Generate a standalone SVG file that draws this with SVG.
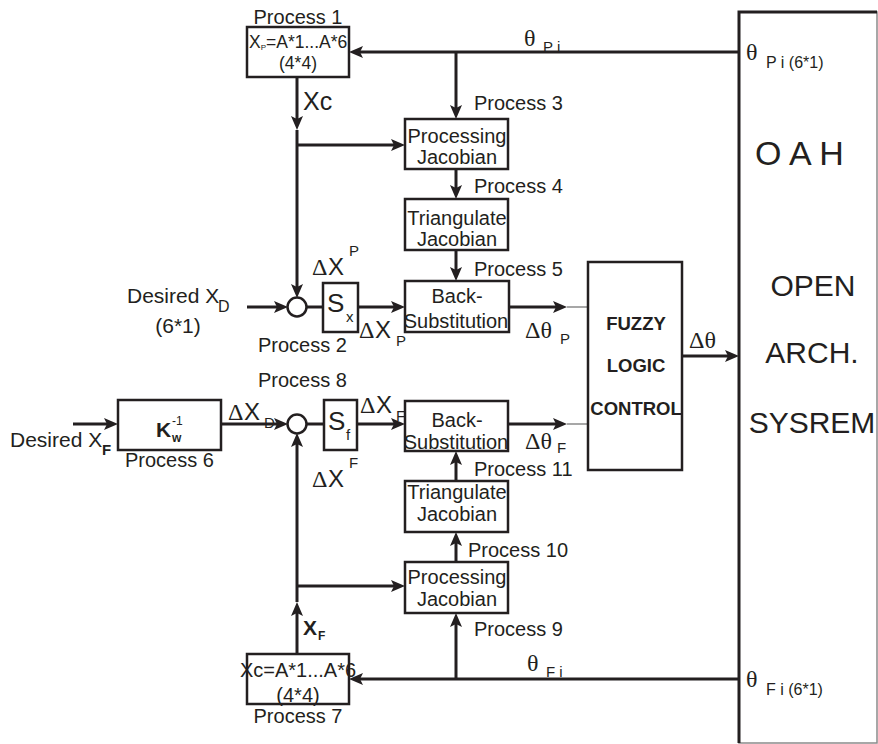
<svg xmlns="http://www.w3.org/2000/svg" width="878" height="744" viewBox="0 0 878 744" font-size="20">
<style>
.t{font-family:"Liberation Sans",Arial,sans-serif;fill:#231f20}
.s{font-family:"Liberation Serif","Times New Roman",serif;fill:#231f20}
.b{font-weight:bold}
.m{text-anchor:middle}
.box{fill:#fff;stroke:#231f20;stroke-width:2.5}
.c{stroke:#231f20;stroke-width:3;fill:none}
.thin{stroke:#8a8a8a;stroke-width:1.5;fill:none}
</style>
<defs>
<marker id="a" markerUnits="userSpaceOnUse" markerWidth="14" markerHeight="12" refX="8" refY="6" orient="auto">
<path d="M0,0 L14,6 L0,12 L3,6 z" fill="#231f20"/>
</marker>
</defs>
<rect width="878" height="744" fill="#fff"/>

<g id="connectors">
<path class="c" d="M739,52 H355" marker-end="url(#a)"/>
<path class="c" d="M456,52 V113" marker-end="url(#a)"/>
<path class="c" d="M297,77 V124" marker-end="url(#a)"/>
<path class="c" d="M297,130 V292" marker-end="url(#a)"/>
<path class="c" d="M297,145 H399" marker-end="url(#a)"/>
<path class="c" d="M456,169 V193" marker-end="url(#a)"/>
<path class="c" d="M456,250 V275" marker-end="url(#a)"/>
<path class="c" d="M247,307 H282" marker-end="url(#a)"/>
<path class="c" d="M307,307 H323"/>
<path class="c" d="M358,307 H399" marker-end="url(#a)"/>
<path class="c" d="M509,307 H561" marker-end="url(#a)"/>
<path class="thin" d="M567,307 H588"/>
<path class="c" d="M509,424 H561" marker-end="url(#a)"/>
<path class="thin" d="M567,424 H588"/>
<path class="c" d="M682,356 H733" marker-end="url(#a)"/>
<path class="c" d="M73,424 H112" marker-end="url(#a)"/>
<path class="c" d="M221,424 H282" marker-end="url(#a)"/>
<path class="c" d="M307,424 H324"/>
<path class="c" d="M357,424 H399" marker-end="url(#a)"/>
<path class="c" d="M739,679 H355" marker-end="url(#a)"/>
<path class="c" d="M456,679 V619" marker-end="url(#a)"/>
<path class="c" d="M456,562 V538" marker-end="url(#a)"/>
<path class="c" d="M456,481 V457" marker-end="url(#a)"/>
<path class="c" d="M297,654 V608" marker-end="url(#a)"/>
<path class="c" d="M297,602 V439" marker-end="url(#a)"/>
<path class="c" d="M297,586 H399" marker-end="url(#a)"/>
</g>

<g id="oah">
<rect x="739" y="12" width="138" height="731" fill="#fff" stroke="#8a8a8a" stroke-width="1.5"/>
<path d="M739,743 V12 H877" stroke="#231f20" stroke-width="3" fill="none"/>
<text class="s" x="746" y="60" font-size="24">θ</text>
<text class="t" x="766" y="68" font-size="16">P i (6*1)</text>
<text class="t" x="755" y="165" font-size="34">O A H</text>
<text class="t m" x="813" y="296" font-size="30">OPEN</text>
<text class="t m" x="812" y="363" font-size="30">ARCH.</text>
<text class="t m" x="812" y="433" font-size="30">SYSREM</text>
<text class="s" x="746" y="687" font-size="24">θ</text>
<text class="t" x="766" y="695" font-size="16">F i (6*1)</text>
</g>

<g id="p1">
<text class="t m" x="298" y="24">Process 1</text>
<rect class="box" x="247" y="27" width="102" height="50"/>
<text class="t" x="249" y="48" font-size="17.5">X<tspan font-size="8" dy="2">P</tspan><tspan dy="-2">=A*1...A*6</tspan></text>
<text class="t m" x="298" y="69" font-size="17.5">(4*4)</text>
<text class="t" x="303" y="110" font-size="25">Xc</text>
</g>

<g id="lbl-thetaPi">
<text class="s" x="524" y="46" font-size="24">θ</text>
<text class="t" x="543" y="52" font-size="15">P i</text>
</g>

<g id="p3">
<text class="t" x="474" y="110">Process 3</text>
<rect class="box" x="405" y="119" width="103" height="50"/>
<text class="t m" x="457" y="143">Processing</text>
<text class="t m" x="457" y="164">Jacobian</text>
</g>

<g id="p4">
<text class="t" x="474" y="193">Process 4</text>
<rect class="box" x="405" y="199" width="103" height="51"/>
<text class="t m" x="457" y="225">Triangulate</text>
<text class="t m" x="457" y="246">Jacobian</text>
</g>

<g id="p5">
<text class="t" x="474" y="276">Process 5</text>
<rect class="box" x="405" y="281" width="104" height="51"/>
<text class="t m" x="457" y="303">Back-</text>
<text class="t m" x="456" y="328">Substitution</text>
</g>

<g id="p2">
<circle cx="297" cy="307" r="9.5" fill="#fff" stroke="#231f20" stroke-width="2.5"/>
<text class="t" x="127" y="303" font-size="21">Desired X</text>
<text class="t" x="218" y="312" font-size="16">D</text>
<text class="t m" x="178" y="333" font-size="21">(6*1)</text>
<text class="t" x="258" y="352">Process 2</text>
<text class="s" x="312" y="275" font-size="24">Δ</text>
<text class="t" x="328" y="275" font-size="24">X</text>
<text class="t" x="349" y="256" font-size="15">P</text>
<rect class="box" x="323" y="283" width="35" height="49"/>
<text class="t" x="327" y="312" font-size="26">S</text>
<text class="t" x="346" y="322" font-size="15">x</text>
<text class="s" x="359" y="338" font-size="24">Δ</text>
<text class="t" x="375" y="338" font-size="24">X</text>
<text class="t" x="396" y="346" font-size="15">P</text>
</g>

<g id="flc">
<text class="s" x="525" y="338" font-size="24">Δθ</text>
<text class="t" x="560" y="344" font-size="15">P</text>
<rect class="box" x="588" y="262" width="94" height="208"/>
<text class="t b m" x="636" y="330" font-size="18.5">FUZZY</text>
<text class="t b m" x="636" y="372" font-size="18.5">LOGIC</text>
<text class="t b m" x="636" y="415" font-size="18.5">CONTROL</text>
<text class="s" x="689" y="348" font-size="24">Δθ</text>
<text class="s" x="525" y="449" font-size="24">Δθ</text>
<text class="t" x="557" y="453" font-size="15">F</text>
</g>

<g id="p6">
<text class="t" x="10" y="447" font-size="21">Desired X</text>
<text class="t b" x="102" y="455" font-size="15">F</text>
<rect class="box" x="118" y="400" width="103" height="50"/>
<text class="t b" x="156" y="437" font-size="21">K</text>
<text class="t b" x="172" y="442" font-size="12">w</text>
<text class="t" x="172" y="425" font-size="12">-1</text>
<text class="t" x="125" y="467">Process 6</text>
<text class="s" x="228" y="420" font-size="24">Δ</text>
<text class="t" x="244" y="420" font-size="24">X</text>
<text class="t" x="264" y="428" font-size="15">D</text>
</g>

<g id="p8">
<text class="t" x="258" y="387">Process 8</text>
<circle cx="297" cy="424" r="9.5" fill="#fff" stroke="#231f20" stroke-width="2.5"/>
<rect class="box" x="324" y="400" width="33" height="50"/>
<text class="t" x="328" y="430" font-size="26">S</text>
<text class="t" x="346" y="440" font-size="15">f</text>
<text class="s" x="360" y="413" font-size="24">Δ</text>
<text class="t" x="376" y="413" font-size="24">X</text>
<text class="t" x="396" y="421" font-size="15">F</text>
<text class="s" x="312" y="487" font-size="24">Δ</text>
<text class="t" x="328" y="487" font-size="24">X</text>
<text class="t" x="349" y="468" font-size="15">F</text>
</g>

<g id="p11">
<rect class="box" x="405" y="401" width="103" height="50"/>
<text class="t m" x="457" y="427">Back-</text>
<text class="t m" x="456" y="449">Substitution</text>
<text class="t" x="474" y="476">Process 11</text>
</g>

<g id="p10">
<rect class="box" x="405" y="481" width="103" height="51"/>
<text class="t m" x="457" y="499">Triangulate</text>
<text class="t m" x="457" y="521">Jacobian</text>
<text class="t" x="468" y="557">Process 10</text>
</g>

<g id="p9">
<rect class="box" x="405" y="562" width="103" height="51"/>
<text class="t m" x="457" y="584">Processing</text>
<text class="t m" x="457" y="606">Jacobian</text>
<text class="t" x="474" y="636">Process 9</text>
</g>

<g id="lbl-thetaFi">
<text class="s" x="527" y="671" font-size="24">θ</text>
<text class="t" x="546" y="677" font-size="15">F i</text>
</g>

<g id="p7">
<text class="t b" x="303" y="635" font-size="21">X</text>
<text class="t b" x="318" y="640" font-size="12">F</text>
<rect class="box" x="247" y="654" width="102" height="50"/>
<text class="t m" x="298" y="677">Xc=A*1...A*6</text>
<text class="t m" x="298" y="702">(4*4)</text>
<text class="t m" x="298" y="723">Process 7</text>
</g>
</svg>
